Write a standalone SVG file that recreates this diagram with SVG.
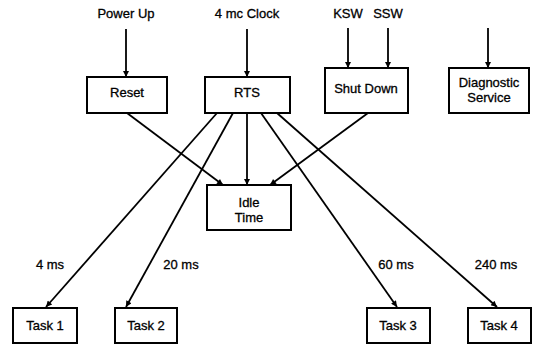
<svg xmlns="http://www.w3.org/2000/svg" width="536" height="347" viewBox="0 0 536 347">
<defs>
<marker id="ah" viewBox="0 0 10 10" refX="10" refY="5" markerWidth="8" markerHeight="6" markerUnits="userSpaceOnUse" orient="auto">
<path d="M0,0 L10,5 L0,10 z" fill="#000"/>
</marker>
<style>
text{font-family:"Liberation Sans",Arial,sans-serif;font-size:13px;fill:#000;text-anchor:middle;stroke:#000;stroke-width:0.3}
.box{fill:#fff;stroke:#000;stroke-width:2}
.c{fill:none;stroke:#000;stroke-width:1.8;marker-end:url(#ah)}
</style>
</defs>
<rect width="536" height="347" fill="#fff"/>
<g id="inputs">
<text x="126" y="18">Power Up</text>
<text x="247" y="18">4 mc Clock</text>
<text x="348" y="18">KSW</text>
<text x="388" y="18">SSW</text>
</g>
<g id="connectors">
<line class="c" x1="126" y1="29" x2="126" y2="77"/>
<line class="c" x1="247" y1="29" x2="247" y2="77"/>
<line class="c" x1="348" y1="28" x2="348" y2="68"/>
<line class="c" x1="388" y1="28" x2="388" y2="68"/>
<line class="c" x1="488" y1="28" x2="488" y2="68"/>
<line class="c" x1="127" y1="113" x2="223" y2="185"/>
<line class="c" x1="247" y1="113" x2="247" y2="185"/>
<line class="c" x1="368" y1="113" x2="270" y2="185"/>
<line class="c" x1="217" y1="113" x2="46" y2="307"/>
<line class="c" x1="233" y1="113" x2="126" y2="307"/>
<line class="c" x1="261" y1="113" x2="397" y2="307"/>
<line class="c" x1="277" y1="113" x2="497" y2="307"/>
</g>
<g id="reset"><rect class="box" x="87" y="77" width="80" height="36"/><text x="127" y="97">Reset</text></g>
<g id="rts"><rect class="box" x="205" y="77" width="85" height="36"/><text x="247" y="97">RTS</text></g>
<g id="shutdown"><rect class="box" x="325" y="68" width="83" height="45"/><text x="366" y="93">Shut Down</text></g>
<g id="diagnostic"><rect class="box" x="449" y="68" width="80" height="45"/><text x="489" y="87">Diagnostic</text><text x="489" y="102">Service</text></g>
<g id="idle"><rect class="box" x="207" y="185" width="84" height="45"/><text x="249" y="207">Idle</text><text x="249" y="222">Time</text></g>
<g id="task1"><rect class="box" x="13" y="308" width="64" height="35"/><text x="45" y="330">Task 1</text></g>
<g id="task2"><rect class="box" x="115" y="308" width="62" height="35"/><text x="146" y="330">Task 2</text></g>
<g id="task3"><rect class="box" x="367" y="308" width="63" height="35"/><text x="398" y="330">Task 3</text></g>
<g id="task4"><rect class="box" x="468" y="308" width="63" height="35"/><text x="499" y="330">Task 4</text></g>
<g id="labels">
<text x="50" y="269">4 ms</text>
<text x="181" y="269">20 ms</text>
<text x="396" y="269">60 ms</text>
<text x="496" y="269">240 ms</text>
</g>
</svg>
